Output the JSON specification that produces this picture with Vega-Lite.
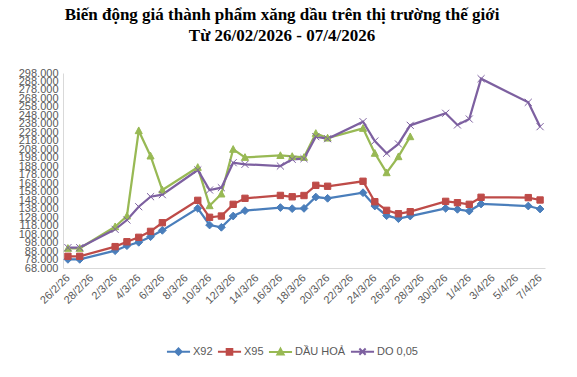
{
  "$schema": "https://vega.github.io/schema/vega-lite/v6.json",
  "autosize": {"type": "none"},
  "width": 482,
  "height": 195,
  "padding": {"left": 63, "top": 73, "right": 32, "bottom": 109},
  "background": "white",
  "title": {
    "text": ["Biến động giá thành phẩm xăng dầu trên thị trường thế giới", "Từ 26/02/2026 - 07/4/2026"],
    "font": "Liberation Serif",
    "fontSize": 17,
    "fontWeight": "bold",
    "color": "#000000",
    "lineHeight": 21,
    "offset": 22,
    "anchor": "middle",
    "dx": -22
  },
  "config": {
    "view": {"stroke": null},
    "axis": {
      "labelFont": "Liberation Sans Narrow, Liberation Sans, sans-serif",
      "labelFontSize": 11,
      "labelColor": "#595959",
      "domainColor": "#d9d9d9",
      "domainWidth": 1,
      "grid": false,
      "ticks": false,
      "title": null,
      "labelOverlap": false,
      "labelFlush": false
    }
  },
  "data": {
    "values": [
      {"ngay": "2026-02-26", "loai": "X92", "gia": 78200},
      {"ngay": "2026-02-27", "loai": "X92", "gia": 78200},
      {"ngay": "2026-03-02", "loai": "X92", "gia": 88400},
      {"ngay": "2026-03-03", "loai": "X92", "gia": 94300},
      {"ngay": "2026-03-04", "loai": "X92", "gia": 98300},
      {"ngay": "2026-03-05", "loai": "X92", "gia": 104900},
      {"ngay": "2026-03-06", "loai": "X92", "gia": 112400},
      {"ngay": "2026-03-09", "loai": "X92", "gia": 138400},
      {"ngay": "2026-03-10", "loai": "X92", "gia": 118700},
      {"ngay": "2026-03-11", "loai": "X92", "gia": 116000},
      {"ngay": "2026-03-12", "loai": "X92", "gia": 129300},
      {"ngay": "2026-03-13", "loai": "X92", "gia": 135600},
      {"ngay": "2026-03-16", "loai": "X92", "gia": 139300},
      {"ngay": "2026-03-17", "loai": "X92", "gia": 138000},
      {"ngay": "2026-03-18", "loai": "X92", "gia": 138300},
      {"ngay": "2026-03-19", "loai": "X92", "gia": 151700},
      {"ngay": "2026-03-20", "loai": "X92", "gia": 150200},
      {"ngay": "2026-03-23", "loai": "X92", "gia": 156800},
      {"ngay": "2026-03-24", "loai": "X92", "gia": 141100},
      {"ngay": "2026-03-25", "loai": "X92", "gia": 129700},
      {"ngay": "2026-03-26", "loai": "X92", "gia": 126200},
      {"ngay": "2026-03-27", "loai": "X92", "gia": 129300},
      {"ngay": "2026-03-30", "loai": "X92", "gia": 138400},
      {"ngay": "2026-03-31", "loai": "X92", "gia": 137200},
      {"ngay": "2026-04-01", "loai": "X92", "gia": 135200},
      {"ngay": "2026-04-02", "loai": "X92", "gia": 143500},
      {"ngay": "2026-04-06", "loai": "X92", "gia": 141100},
      {"ngay": "2026-04-07", "loai": "X92", "gia": 137600},
      {"ngay": "2026-02-26", "loai": "X95", "gia": 81800},
      {"ngay": "2026-02-27", "loai": "X95", "gia": 81800},
      {"ngay": "2026-03-02", "loai": "X95", "gia": 93200},
      {"ngay": "2026-03-03", "loai": "X95", "gia": 99000},
      {"ngay": "2026-03-04", "loai": "X95", "gia": 104200},
      {"ngay": "2026-03-05", "loai": "X95", "gia": 111200},
      {"ngay": "2026-03-06", "loai": "X95", "gia": 121400},
      {"ngay": "2026-03-09", "loai": "X95", "gia": 147800},
      {"ngay": "2026-03-10", "loai": "X95", "gia": 127800},
      {"ngay": "2026-03-11", "loai": "X95", "gia": 129300},
      {"ngay": "2026-03-12", "loai": "X95", "gia": 143100},
      {"ngay": "2026-03-13", "loai": "X95", "gia": 150200},
      {"ngay": "2026-03-16", "loai": "X95", "gia": 153600},
      {"ngay": "2026-03-17", "loai": "X95", "gia": 152000},
      {"ngay": "2026-03-18", "loai": "X95", "gia": 153500},
      {"ngay": "2026-03-19", "loai": "X95", "gia": 165500},
      {"ngay": "2026-03-20", "loai": "X95", "gia": 164400},
      {"ngay": "2026-03-23", "loai": "X95", "gia": 170300},
      {"ngay": "2026-03-24", "loai": "X95", "gia": 146200},
      {"ngay": "2026-03-25", "loai": "X95", "gia": 136000},
      {"ngay": "2026-03-26", "loai": "X95", "gia": 132000},
      {"ngay": "2026-03-27", "loai": "X95", "gia": 134400},
      {"ngay": "2026-03-30", "loai": "X95", "gia": 146600},
      {"ngay": "2026-03-31", "loai": "X95", "gia": 145000},
      {"ngay": "2026-04-01", "loai": "X95", "gia": 143100},
      {"ngay": "2026-04-02", "loai": "X95", "gia": 151400},
      {"ngay": "2026-04-06", "loai": "X95", "gia": 151000},
      {"ngay": "2026-04-07", "loai": "X95", "gia": 148200},
      {"ngay": "2026-02-26", "loai": "DẦU HOẢ", "gia": 91200},
      {"ngay": "2026-02-27", "loai": "DẦU HOẢ", "gia": 91200},
      {"ngay": "2026-03-02", "loai": "DẦU HOẢ", "gia": 116700},
      {"ngay": "2026-03-03", "loai": "DẦU HOẢ", "gia": 129300},
      {"ngay": "2026-03-04", "loai": "DẦU HOẢ", "gia": 230000},
      {"ngay": "2026-03-05", "loai": "DẦU HOẢ", "gia": 200100},
      {"ngay": "2026-03-06", "loai": "DẦU HOẢ", "gia": 160000},
      {"ngay": "2026-03-09", "loai": "DẦU HOẢ", "gia": 186700},
      {"ngay": "2026-03-10", "loai": "DẦU HOẢ", "gia": 141500},
      {"ngay": "2026-03-11", "loai": "DẦU HOẢ", "gia": 155300},
      {"ngay": "2026-03-12", "loai": "DẦU HOẢ", "gia": 208000},
      {"ngay": "2026-03-13", "loai": "DẦU HOẢ", "gia": 198500},
      {"ngay": "2026-03-16", "loai": "DẦU HOẢ", "gia": 200700},
      {"ngay": "2026-03-17", "loai": "DẦU HOẢ", "gia": 199600},
      {"ngay": "2026-03-18", "loai": "DẦU HOẢ", "gia": 198500},
      {"ngay": "2026-03-19", "loai": "DẦU HOẢ", "gia": 226800},
      {"ngay": "2026-03-20", "loai": "DẦU HOẢ", "gia": 221300},
      {"ngay": "2026-03-23", "loai": "DẦU HOẢ", "gia": 232700},
      {"ngay": "2026-03-24", "loai": "DẦU HOẢ", "gia": 203300},
      {"ngay": "2026-03-25", "loai": "DẦU HOẢ", "gia": 180400},
      {"ngay": "2026-03-26", "loai": "DẦU HOẢ", "gia": 199300},
      {"ngay": "2026-03-27", "loai": "DẦU HOẢ", "gia": 222900},
      {"ngay": "2026-02-26", "loai": "DO 0,05", "gia": 92000},
      {"ngay": "2026-02-27", "loai": "DO 0,05", "gia": 92000},
      {"ngay": "2026-03-02", "loai": "DO 0,05", "gia": 113600},
      {"ngay": "2026-03-03", "loai": "DO 0,05", "gia": 124600},
      {"ngay": "2026-03-04", "loai": "DO 0,05", "gia": 140300},
      {"ngay": "2026-03-05", "loai": "DO 0,05", "gia": 152100},
      {"ngay": "2026-03-06", "loai": "DO 0,05", "gia": 154500},
      {"ngay": "2026-03-09", "loai": "DO 0,05", "gia": 183600},
      {"ngay": "2026-03-10", "loai": "DO 0,05", "gia": 160000},
      {"ngay": "2026-03-11", "loai": "DO 0,05", "gia": 162700},
      {"ngay": "2026-03-12", "loai": "DO 0,05", "gia": 192200},
      {"ngay": "2026-03-13", "loai": "DO 0,05", "gia": 190300},
      {"ngay": "2026-03-16", "loai": "DO 0,05", "gia": 188300},
      {"ngay": "2026-03-17", "loai": "DO 0,05", "gia": 196200},
      {"ngay": "2026-03-18", "loai": "DO 0,05", "gia": 197000},
      {"ngay": "2026-03-19", "loai": "DO 0,05", "gia": 222900},
      {"ngay": "2026-03-20", "loai": "DO 0,05", "gia": 220500},
      {"ngay": "2026-03-23", "loai": "DO 0,05", "gia": 240600},
      {"ngay": "2026-03-24", "loai": "DO 0,05", "gia": 217800},
      {"ngay": "2026-03-25", "loai": "DO 0,05", "gia": 203300},
      {"ngay": "2026-03-26", "loai": "DO 0,05", "gia": 214300},
      {"ngay": "2026-03-27", "loai": "DO 0,05", "gia": 236300},
      {"ngay": "2026-03-30", "loai": "DO 0,05", "gia": 250500},
      {"ngay": "2026-03-31", "loai": "DO 0,05", "gia": 236700},
      {"ngay": "2026-04-01", "loai": "DO 0,05", "gia": 243700},
      {"ngay": "2026-04-02", "loai": "DO 0,05", "gia": 291300},
      {"ngay": "2026-04-06", "loai": "DO 0,05", "gia": 263400},
      {"ngay": "2026-04-07", "loai": "DO 0,05", "gia": 234700}
    ]
  },
  "encoding": {
    "x": {
      "field": "ngay",
      "type": "temporal",
      "scale": {
        "type": "utc",
        "domain": [
          {"year": 2026, "month": 2, "date": 25, "hours": 14, "utc": true},
          {"year": 2026, "month": 4, "date": 7, "hours": 10, "utc": true}
        ],
        "nice": false
      },
      "axis": {
        "format": "%-d/%-m/%y",
        "labelAngle": -45,
        "labelAlign": "right",
        "labelBaseline": "middle",
        "labelPadding": 8,
        "values": [
          {"year": 2026, "month": 2, "date": 26, "utc": true},
          {"year": 2026, "month": 2, "date": 28, "utc": true},
          {"year": 2026, "month": 3, "date": 2, "utc": true},
          {"year": 2026, "month": 3, "date": 4, "utc": true},
          {"year": 2026, "month": 3, "date": 6, "utc": true},
          {"year": 2026, "month": 3, "date": 8, "utc": true},
          {"year": 2026, "month": 3, "date": 10, "utc": true},
          {"year": 2026, "month": 3, "date": 12, "utc": true},
          {"year": 2026, "month": 3, "date": 14, "utc": true},
          {"year": 2026, "month": 3, "date": 16, "utc": true},
          {"year": 2026, "month": 3, "date": 18, "utc": true},
          {"year": 2026, "month": 3, "date": 20, "utc": true},
          {"year": 2026, "month": 3, "date": 22, "utc": true},
          {"year": 2026, "month": 3, "date": 24, "utc": true},
          {"year": 2026, "month": 3, "date": 26, "utc": true},
          {"year": 2026, "month": 3, "date": 28, "utc": true},
          {"year": 2026, "month": 3, "date": 30, "utc": true},
          {"year": 2026, "month": 4, "date": 1, "utc": true},
          {"year": 2026, "month": 4, "date": 3, "utc": true},
          {"year": 2026, "month": 4, "date": 5, "utc": true},
          {"year": 2026, "month": 4, "date": 7, "utc": true}
        ]
      }
    },
    "y": {
      "field": "gia",
      "type": "quantitative",
      "scale": {"domain": [68000, 298000], "nice": false, "zero": false},
      "axis": {
        "values": [68000, 78000, 88000, 98000, 108000, 118000, 128000, 138000, 148000, 158000, 168000, 178000, 188000, 198000, 208000, 218000, 228000, 238000, 248000, 258000, 268000, 278000, 288000, 298000],
        "labelExpr": "replace(format(datum.value, ','), ',', '.')",
        "labelPadding": 5
      }
    }
  },
  "layer": [
    {
      "mark": {"type": "line", "strokeWidth": 2.25},
      "encoding": {
        "color": {
          "field": "loai",
          "type": "nominal",
          "scale": {
            "range": ["#7d60a0", "#98b954", "#4a7ebb", "#be4b48"]
          },
          "legend": null
        }
      }
    },
    {
      "transform": [{"filter": "datum.loai === 'X92'"}],
      "mark": {"type": "point", "shape": "M0,-1.1L1.1,0L0,1.1L-1.1,0Z", "filled": true, "size": 50, "color": "#4a7ebb", "stroke": "#4a7ebb", "strokeWidth": 1, "opacity": 1}
    },
    {
      "transform": [{"filter": "datum.loai === 'X95'"}],
      "mark": {"type": "point", "shape": "M-0.9,-0.9H0.9V0.9H-0.9Z", "filled": true, "size": 50, "color": "#be4b48", "stroke": "#be4b48", "strokeWidth": 1, "opacity": 1}
    },
    {
      "transform": [{"filter": "datum.loai === 'DẦU HOẢ'"}],
      "mark": {"type": "point", "shape": "M0,-1.05L1,0.85H-1Z", "filled": true, "size": 50, "color": "#98b954", "stroke": "#98b954", "strokeWidth": 1, "opacity": 1}
    },
    {
      "transform": [{"filter": "datum.loai === 'DO 0,05'"}],
      "mark": {"type": "point", "shape": "M-1,-1L1,1M-1,1L1,-1", "filled": true, "size": 50, "color": "#7d60a0", "stroke": "#7d60a0", "strokeWidth": 1, "opacity": 1}
    },
    {
      "transform": [{"filter": "false"}],
      "mark": {"type": "point", "filled": true, "opacity": 1},
      "encoding": {
        "shape": {
          "field": "loai",
          "type": "nominal",
          "scale": {
            "domain": ["X92", "X95", "DẦU HOẢ", "DO 0,05"],
            "range": [
              "M-3.3,0H3.3M0,-0.9L0.9,0L0,0.9L-0.9,0Z",
              "M-3.3,0H3.3M-0.8,-0.8H0.8V0.8H-0.8Z",
              "M-3.3,0H3.3M0,-0.95L0.9,0.75H-0.9Z",
              "M-3.3,0H3.3M-0.9,-0.9L0.9,0.9M-0.9,0.9L0.9,-0.9"
            ]
          },
          "legend": {
            "title": null, "orient": "none", "direction": "horizontal", "legendX": 110, "legendY": 273, "padding": 0,
            "symbolSize": 49, "symbolStrokeWidth": 2, "symbolOpacity": 1, "labelOffset": 9, "columnPadding": 0,
            "labelFont": "Liberation Sans Narrow, Liberation Sans, sans-serif", "labelFontSize": 11, "labelColor": "#595959"
          }
        },
        "fill": {
          "field": "loai",
          "type": "nominal",
          "scale": {
            "domain": ["X92", "X95", "DẦU HOẢ", "DO 0,05"],
            "range": ["#4a7ebb", "#be4b48", "#98b954", "#7d60a0"]
          },
          "legend": {
            "title": null, "orient": "none", "direction": "horizontal", "legendX": 110, "legendY": 273, "padding": 0,
            "symbolSize": 49, "symbolStrokeWidth": 2, "symbolOpacity": 1, "labelOffset": 9, "columnPadding": 0,
            "labelFont": "Liberation Sans Narrow, Liberation Sans, sans-serif", "labelFontSize": 11, "labelColor": "#595959"
          }
        },
        "stroke": {
          "field": "loai",
          "type": "nominal",
          "scale": {
            "domain": ["X92", "X95", "DẦU HOẢ", "DO 0,05"],
            "range": ["#4a7ebb", "#be4b48", "#98b954", "#7d60a0"]
          },
          "legend": {
            "title": null, "orient": "none", "direction": "horizontal", "legendX": 110, "legendY": 273, "padding": 0,
            "symbolSize": 49, "symbolStrokeWidth": 2, "symbolOpacity": 1, "labelOffset": 9, "columnPadding": 0,
            "labelFont": "Liberation Sans Narrow, Liberation Sans, sans-serif", "labelFontSize": 11, "labelColor": "#595959"
          }
        }
      }
    }
  ]
}
